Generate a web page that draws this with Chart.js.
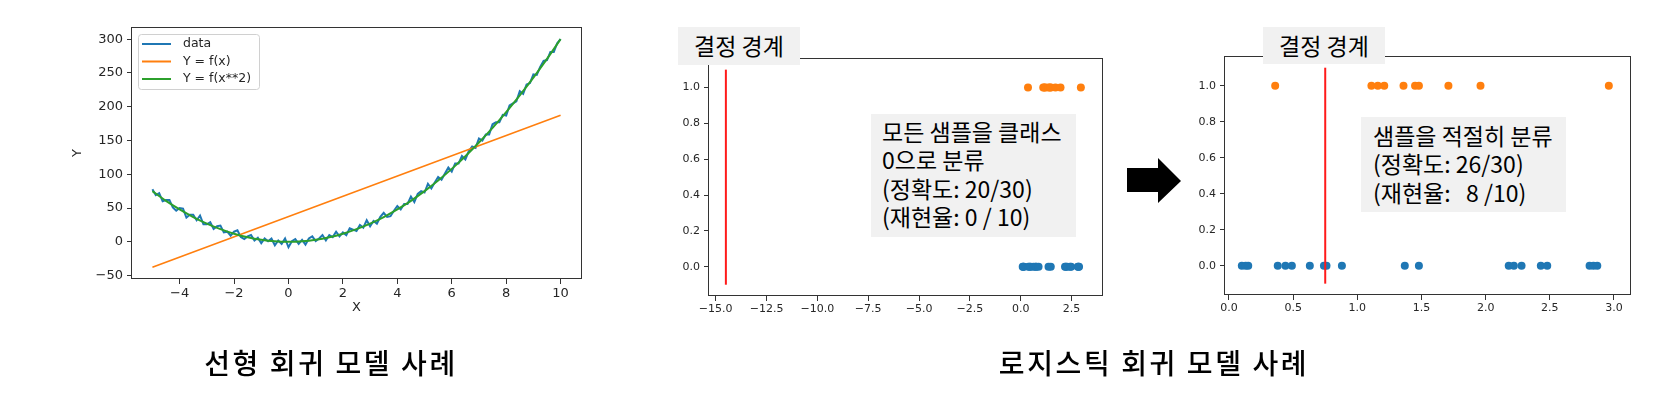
<!DOCTYPE html>
<html>
<head>
<meta charset="utf-8">
<script src="https://cdn.jsdelivr.net/npm/chart.js@4.4.0/dist/chart.umd.min.js"></script>
<style>
  html, body { margin: 0; padding: 0; background: #fff; }
  body { width: 1661px; height: 407px; position: relative; overflow: hidden;
         font-family: "Noto Sans CJK KR", "Noto Sans", sans-serif; }
  canvas { position: absolute; }
  .box { position: absolute; background: #f1f1f1; color: #000; font-size: 23px; white-space: pre; }
  .title { text-align: center; line-height: 37px; }
  .note { line-height: 28.3px; }
  .caption { position: absolute; font-size: 28px; font-weight: 500; letter-spacing: 2.6px; color: #000;
             white-space: nowrap; transform: translate(-50%, -50%); }
</style>
</head>
<body>
<canvas id="linear" width="600" height="330" style="left:0;top:0"></canvas>
<canvas id="allZero" width="500" height="330" style="left:620px;top:0"></canvas>
<canvas id="fitted" width="521" height="330" style="left:1140px;top:0"></canvas>

<div class="box title" style="left:678px;top:27px;width:122px;height:38px">결정 경계</div>
<div class="box title" style="left:1263px;top:27px;width:122px;height:37px">결정 경계</div>
<div class="box note" style="left:871px;top:114px;width:194px;height:120px;padding:3px 0 0 11px">모든 샘플을 클래스
0으로 분류
(정확도: 20/30)
(재현율: 0 / 10)</div>
<div class="box note" style="left:1361px;top:117px;width:193px;height:91px;padding:4px 0 0 12px">샘플을 적절히 분류
(정확도: 26/30)
(재현율:   8 /10)</div>

<svg style="position:absolute;left:0;top:0" width="1661" height="407">
  <polygon points="1127,168 1158,168 1158,158 1181,181 1158,203 1158,192 1127,192" fill="#000"/>
</svg>

<div class="caption" style="left:331px;top:362px">선형 회귀 모델 사례</div>
<div class="caption" style="left:1154px;top:362px">로지스틱 회귀 모델 사례</div>

<script>
// 선형 회귀: 노이즈 데이터 (x, y)
var dataX = [-5, -4.875, -4.75, -4.625, -4.5, -4.375, -4.25, -4.125, -4, -3.875, -3.75, -3.625, -3.5, -3.375, -3.25, -3.125,
  -3, -2.875, -2.75, -2.625, -2.5, -2.375, -2.25, -2.125, -2, -1.875, -1.75, -1.625, -1.5, -1.375, -1.25, -1.125,
  -1, -0.875, -0.75, -0.625, -0.5, -0.375, -0.25, -0.125, 0, 0.125, 0.25, 0.375, 0.5, 0.625, 0.75, 0.875,
  1, 1.125, 1.25, 1.375, 1.5, 1.625, 1.75, 1.875, 2, 2.125, 2.25, 2.375, 2.5, 2.625, 2.75, 2.875,
  3, 3.125, 3.25, 3.375, 3.5, 3.625, 3.75, 3.875, 4, 4.125, 4.25, 4.375, 4.5, 4.625, 4.75, 4.875,
  5, 5.125, 5.25, 5.375, 5.5, 5.625, 5.75, 5.875, 6, 6.125, 6.25, 6.375, 6.5, 6.625, 6.75, 6.875,
  7, 7.125, 7.25, 7.375, 7.5, 7.625, 7.75, 7.875, 8, 8.125, 8.25, 8.375, 8.5, 8.625, 8.75, 8.875,
  9, 9.125, 9.25, 9.375, 9.5, 9.625, 9.75, 9.875, 10]
var dataY = [78, 69, 72, 60, 62, 62, 51, 46, 50, 49, 36, 40, 40, 32, 39, 26,
  26, 29, 19, 23, 24, 14, 15, 9, 15, 17, 7, 4, 8, 10, 2, 6,
  -2, 5, 1, 5, -5, 2, -3, 5, -8, 1, 4, -3, 3, -4, 5, 8,
  1, 5, 10, 2, 10, 7, 15, 8, 14, 10, 20, 18, 16, 25, 21, 32,
  23, 31, 27, 37, 43, 37, 38, 46, 53, 48, 56, 56, 67, 59, 71, 75,
  73, 86, 79, 88, 96, 92, 101, 110, 104, 116, 116, 127, 122, 134, 141, 139,
  153, 150, 159, 159, 174, 177, 177, 188, 187, 202, 205, 208, 223, 219, 233, 235,
  248, 247, 259, 268, 269, 281, 281, 294, 300]
// 2차 회귀 곡선
var fitX = [-5, -4.5, -4, -3.5, -3, -2.5, -2, -1.5, -1, -0.5, 0, 0.5, 1, 1.5, 2, 2.5,
  3, 3.5, 4, 4.5, 5, 5.5, 6, 6.5, 7, 7.5, 8, 8.5, 9, 9.5, 10]
var fitQuadY = [75, 60.75, 48, 36.75, 27, 18.75, 12, 6.75, 3, 0.75, 0, 0.75, 3, 6.75, 12, 18.75,
  27, 36.75, 48, 60.75, 75, 90.75, 108, 126.75, 147, 168.75, 192, 216.75, 243, 270.75, 300]
// 1차 회귀 직선
var lineX = [-5, 10]
var lineY = [-37.5, 187.5]
var linXTicks = [-4, -2, 0, 2, 4, 6, 8, 10]
var linYTicks = [-50, 0, 50, 100, 150, 200, 250, 300]

// 로지스틱: 클래스별 샘플 x 값
var class1X = [0.36, 1.11, 1.16, 1.21, 1.36, 1.45, 1.48, 1.71, 1.96, 2.96]
var class0X = [0.10, 0.13, 0.15, 0.38, 0.44, 0.49, 0.63, 0.74, 0.76, 0.88,
  1.37, 1.48, 2.18, 2.22, 2.28, 2.43, 2.48, 2.81, 2.84, 2.87]
var boundAllX = [-14.5, -14.5]
var boundFitX = [0.75, 0.75]
var boundY = [-0.1, 1.1]
var allZeroXTicks = [-15, -12.5, -10, -7.5, -5, -2.5, 0, 2.5]
var fittedXTicks = [0, 0.5, 1, 1.5, 2, 2.5, 3]
var probTicks = [0, 0.2, 0.4, 0.6, 0.8, 1]

var BLUE = '#1f77b4', ORANGE = '#ff7f0e', GREEN = '#2ca02c'

function pts (xs, ys) {
  return xs.map(function (x, i) { return { x: x, y: ys[i] } })
}
function minus (s) { return String(s).replace('-', '\u2212') }
function fmtInt (v) { return minus(v) }
function fmt1 (v) { return minus(v.toFixed(1)) }

function axis (min, max, ticks, fmt, fontSize, size, isX, title) {
  var a = {
    type: 'linear', min: min, max: max,
    afterBuildTicks: function (s) { s.ticks = ticks.map(function (v) { return { value: v } }) },
    afterFit: function (s) { if (isX) s.height = size; else s.width = size },
    grid: { drawOnChartArea: false, drawTicks: true, tickLength: 5, tickColor: '#333', tickWidth: 1 },
    border: { display: false },
    ticks: { callback: fmt, autoSkip: false, maxRotation: 0, padding: isX ? 2 : 4,
      color: '#262626', font: { family: 'DejaVu Sans', size: fontSize } }
  }
  if (title) a.title = title
  return a
}

// 축 테두리 (matplotlib 스타일 박스)
var frame = {
  id: 'frame',
  afterDatasetsDraw: function (chart) {
    var a = chart.chartArea, c = chart.ctx
    c.save()
    c.strokeStyle = '#333'
    c.lineWidth = 1
    c.strokeRect(Math.round(a.left) - 0.5, Math.round(a.top) + 0.5,
      Math.round(a.right - a.left) + 1, Math.round(a.bottom - a.top) - 1)
    c.restore()
  }
}

// 차트 내부 범례
var boxLegend = {
  id: 'boxLegend',
  afterDraw: function (chart) {
    var a = chart.chartArea, c = chart.ctx
    var sets = chart.data.datasets
    var x = a.left + 6, y = a.top + 7
    c.save()
    c.beginPath()
    c.roundRect(x + 0.5, y + 0.5, 121, 55, 3)
    c.fillStyle = 'rgba(255,255,255,0.8)'
    c.fill()
    c.strokeStyle = '#d0d0d0'
    c.lineWidth = 1
    c.stroke()
    c.font = '12.5px "DejaVu Sans"'
    c.textBaseline = 'middle'
    sets.forEach(function (d, i) {
      var ry = y + 10 + i * 17.5
      c.strokeStyle = d.borderColor
      c.lineWidth = 2
      c.beginPath()
      c.moveTo(x + 4, ry)
      c.lineTo(x + 33, ry)
      c.stroke()
      c.fillStyle = '#262626'
      c.fillText(d.label, x + 45, ry)
    })
    c.restore()
  }
}

new Chart(document.getElementById('linear'), {
  type: 'line',
  data: {
    datasets: [
      { label: 'data', data: pts(dataX, dataY), borderColor: BLUE, borderWidth: 2, pointRadius: 0, order: 3 },
      { label: 'Y = f(x)', data: pts(lineX, lineY), borderColor: ORANGE, borderWidth: 1.6, pointRadius: 0, order: 2 },
      { label: 'Y = f(x**2)', data: pts(fitX, fitQuadY), borderColor: GREEN, borderWidth: 2, pointRadius: 0, tension: 0.3, order: 1 }
    ]
  },
  options: {
    responsive: false, animation: false,
    layout: { padding: { left: 60, top: 27, right: 19, bottom: 11 } },
    plugins: { legend: { display: false }, tooltip: { enabled: false } },
    scales: {
      x: axis(-5.75, 10.75, linXTicks, fmtInt, 13, 40, true,
        { display: true, text: 'X', color: '#262626', font: { family: 'DejaVu Sans', size: 13 }, padding: { top: 0, bottom: 4 } }),
      y: axis(-55, 318, linYTicks, fmtInt, 13, 72, false,
        { display: true, text: 'Y', color: '#262626', font: { family: 'DejaVu Sans', size: 13 }, padding: { top: 10, bottom: 0 } })
    }
  },
  plugins: [frame, boxLegend]
})

function logistic (id, bx, xmin, xmax, xticks, pad) {
  new Chart(document.getElementById(id), {
    type: 'scatter',
    data: {
      datasets: [
        { type: 'line', label: '결정 경계', data: pts(bx, boundY), borderColor: '#ff1a1a', borderWidth: 2, pointRadius: 0, order: 0 },
        { label: '1', data: class1X.map(function (x) { return { x: x, y: 1 } }), backgroundColor: ORANGE, borderWidth: 0, pointRadius: 4, order: 1 },
        { label: '0', data: class0X.map(function (x) { return { x: x, y: 0 } }), backgroundColor: BLUE, borderWidth: 0, pointRadius: 4, order: 2 }
      ]
    },
    options: {
      responsive: false, animation: false,
      layout: { padding: pad },
      plugins: { legend: { display: false }, tooltip: { enabled: false } },
      scales: {
        x: axis(xmin, xmax, xticks, fmt1, 11, 25, true),
        y: axis(-0.163, 1.165, probTicks, fmt1, 11, 50, false)
      }
    },
    plugins: [frame]
  })
}

logistic('allZero', boundAllX, -15.33, 4.0, allZeroXTicks, { left: 39, top: 58, right: 18, bottom: 9 })
logistic('fitted', boundFitX, -0.031, 3.125, fittedXTicks, { left: 35, top: 56, right: 31, bottom: 10 })
</script>
</body>
</html>
